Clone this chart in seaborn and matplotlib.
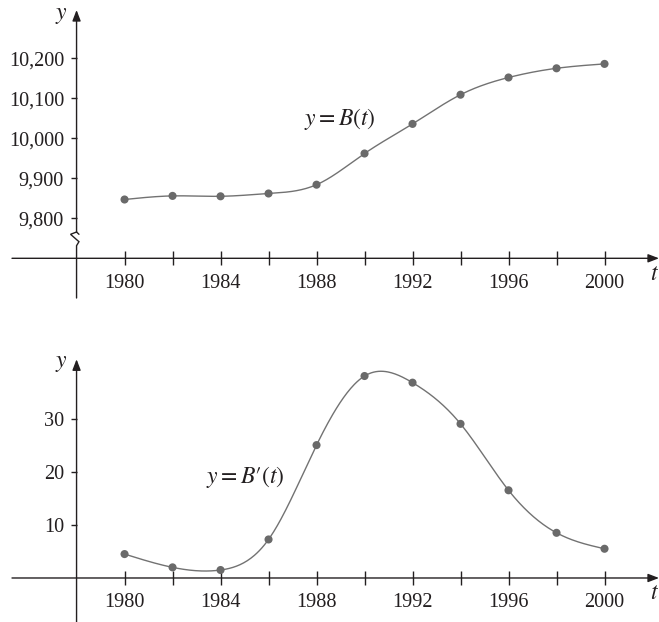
import numpy as np
import pandas as pd
import matplotlib
matplotlib.use("Agg")
import matplotlib.pyplot as plt
import seaborn as sns

# data (Belgian population, thousands, and its rate of change)
years = [1980, 1982, 1984, 1986, 1988, 1990, 1992, 1994, 1996, 1998, 2000]
pop = [9847, 9856, 9855, 9862, 9884, 9962, 10036, 10109, 10152, 10175, 10186]
rate = [4.5, 2.0, 1.5, 7.25, 25, 38, 36.75, 29, 16.5, 8.5, 5.5]

x_ticks = [1980, 1982, 1984, 1986, 1988, 1990, 1992, 1994, 1996, 1998, 2000]
x_labels = ["1980", "", "1984", "", "1988", "", "1992", "", "1996", "", "2000"]
top_yticks = [9800, 9900, 10000, 10100, 10200]
top_ylabels = ["9,800", "9,900", "10,000", "10,100", "10,200"]
bot_yticks = [10, 20, 30]
bot_ylabels = ["10", "20", "30"]

sns.set_style("white")
plt.rcParams["font.family"] = ["Liberation Serif", "DejaVu Serif"]
plt.rcParams["mathtext.fontset"] = "stix"

AX = "#231f20"
CURVE = "#727272"
DOT = "#6a6a6a"


def spline(x, y, n=400):
    # natural cubic spline through the points, just for drawing the smooth curve
    x = np.asarray(x, float)
    y = np.asarray(y, float)
    k = len(x)
    h = np.diff(x)
    A = np.zeros((k, k))
    r = np.zeros(k)
    A[0, 0] = A[-1, -1] = 1
    for i in range(1, k - 1):
        A[i, i - 1] = h[i - 1]
        A[i, i] = 2 * (h[i - 1] + h[i])
        A[i, i + 1] = h[i]
        r[i] = 3 * ((y[i + 1] - y[i]) / h[i] - (y[i] - y[i - 1]) / h[i - 1])
    c = np.linalg.solve(A, r)
    xs = np.linspace(x[0], x[-1], n)
    idx = np.clip(np.searchsorted(x, xs) - 1, 0, k - 2)
    dx = xs - x[idx]
    b = (y[1:] - y[:-1]) / h - h * (2 * c[:-1] + c[1:]) / 3
    d = (c[1:] - c[:-1]) / (3 * h)
    ys = y[idx] + b[idx] * dx + c[idx] * dx**2 + d[idx] * dx**3
    return xs, ys


def arrow(ax, start, end):
    ax.annotate("", xy=end, xytext=start,
                arrowprops=dict(arrowstyle="-|>,head_length=0.65,head_width=0.25",
                                color=AX, lw=1.0, shrinkA=0, shrinkB=0,
                                mutation_scale=10))


def setup(ax, ylim, y0, yticks, ylabels):
    ax.set_xlim(1974.81, 2002.27)
    ax.set_ylim(*ylim)
    for s in ax.spines.values():
        s.set_visible(False)
    ax.spines["bottom"].set_position(("data", y0))
    ax.spines["left"].set_position(("data", 1978))
    ax.set_xticks(x_ticks)
    ax.set_xticklabels(x_labels)
    ax.set_yticks(yticks)
    ax.set_yticklabels(ylabels)
    ax.tick_params(axis="x", direction="inout", length=10, width=1.0, color=AX,
                   labelsize=14.6, pad=6, labelcolor=AX, bottom=True)
    ax.tick_params(axis="y", direction="out", length=4, width=1.0, color=AX,
                   labelsize=14.6, pad=5, labelcolor=AX, left=True)
    ax.set_xlabel("")
    ax.set_ylabel("")


fig = plt.figure(figsize=(6.59, 6.22), dpi=100)
ax1 = fig.add_axes([0, 1 - 310 / 622, 1, 310 / 622])
ax2 = fig.add_axes([0, 0, 1, 312 / 622])

# top: B(t)
top = pd.DataFrame({"t": years, "B": pop})
xs, ys = spline(years, pop)
sns.lineplot(x=xs, y=ys, ax=ax1, color=CURVE, lw=1.0)
sns.scatterplot(data=top, x="t", y="B", ax=ax1, color=DOT, s=34, edgecolor="none", zorder=3)
setup(ax1, (9570.75, 10345.75), 9700, top_yticks, top_ylabels)
arrow(ax1, (1975.31, 9700), (2002.27, 9700))
ax1.plot([1978, 1978, 1978.1, 1977.75, 1978, 1978],
         [9600.75, 9731.5, 9741.5, 9760, 9765.75, 9765.75],
         color=AX, lw=1.0, solid_joinstyle="miter")
ax1.plot([1978, 1978.1], [9765.75, 9760], color=AX, lw=1.0)
arrow(ax1, (1978, 9765.75), (1978, 10320.75))
ax1.text(1977.35, 10308, "$y$", fontsize=17, ha="center", va="center", color=AX)
ax1.text(2002.1, 9660, "$t$", fontsize=17, ha="center", va="center", color=AX)
ax1.text(1988.98, 10048, "$y = B(t)$", fontsize=17, ha="center", va="center", color=AX)

# bottom: B'(t)
bot = pd.DataFrame({"t": years, "dB": rate})
xs2, ys2 = spline(years, rate)
sns.lineplot(x=xs2, y=ys2, ax=ax2, color=CURVE, lw=1.0)
sns.scatterplot(data=bot, x="t", y="dB", ax=ax2, color=DOT, s=34, edgecolor="none", zorder=3)
setup(ax2, (-8.28, 50.42), 0, bot_yticks, bot_ylabels)
arrow(ax2, (1975.31, 0), (2002.27, 0))
arrow(ax2, (1978, -8.28), (1978, 41.15))
ax2.text(1977.35, 40.3, "$y$", fontsize=17, ha="center", va="center", color=AX)
ax2.text(2002.1, -3.0, "$t$", fontsize=17, ha="center", va="center", color=AX)
ax2.text(1985.04, 19.06, r"$y = B\prime(t)$", fontsize=17, ha="center", va="center", color=AX)

fig.savefig("out.png", dpi=100)
